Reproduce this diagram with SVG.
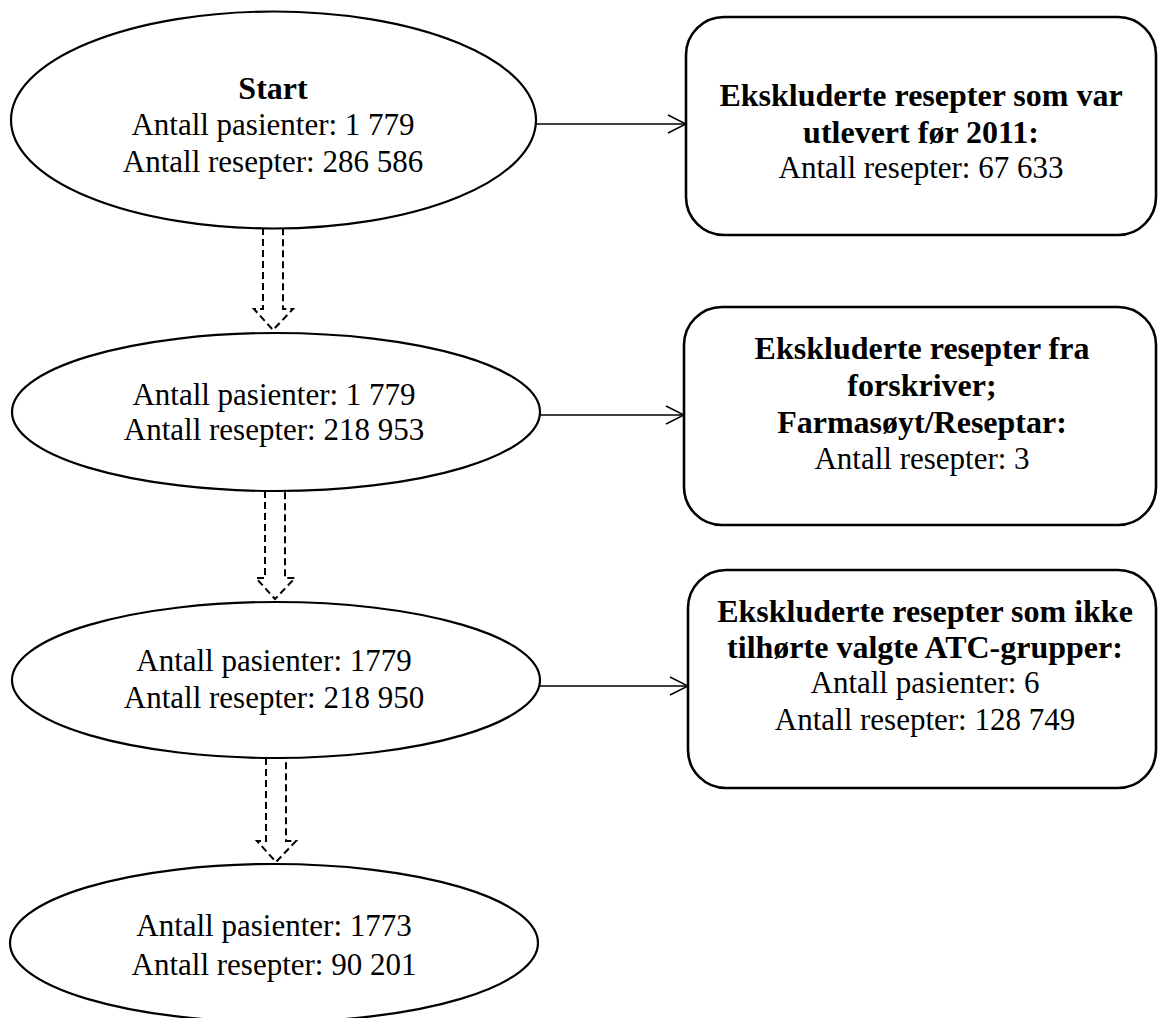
<svg xmlns="http://www.w3.org/2000/svg" width="1158" height="1018" viewBox="0 0 1158 1018">
<style>
.shape{fill:#fff;stroke:#000;stroke-width:2.2}
.box{fill:#fff;stroke:#000;stroke-width:2.6}
.t{font-family:"Liberation Serif","Times New Roman",serif;font-size:31px;fill:#000;text-anchor:middle}
.b{font-weight:bold;font-size:32px}
.conn{stroke:#000;stroke-width:1.4;fill:none}
.dash{fill:none;stroke:#000;stroke-width:2;stroke-dasharray:7,4}
</style>
<defs>
<marker id="arr" viewBox="0 0 20 20" refX="19" refY="10" markerWidth="20" markerHeight="20" markerUnits="userSpaceOnUse" orient="auto">
<path d="M1,1 L19,10 L1,19" fill="none" stroke="#000" stroke-width="1.5"/>
</marker>
</defs>
<g id="connectors">
<line class="conn" x1="536" y1="124" x2="686" y2="124" marker-end="url(#arr)"/>
<line class="conn" x1="540" y1="415" x2="684" y2="415" marker-end="url(#arr)"/>
<line class="conn" x1="540" y1="686" x2="688" y2="686" marker-end="url(#arr)"/>
<polygon class="dash" points="263,228 263,309 254,309 273,330 293,309 283,309 283,228"/>
<polygon class="dash" points="265,491 265,578 256,578 275,599 295,578 285,578 285,491"/>
<polygon class="dash" points="266,758 266,841 257,841 276,862 296,841 286,841 286,758"/>
</g>
<g id="n1">
<ellipse class="shape" cx="273.5" cy="120" rx="262.5" ry="108.5"/>
<text class="t b" x="273" y="99">Start</text>
<text class="t" x="273" y="135">Antall pasienter: 1 779</text>
<text class="t" x="273" y="172">Antall resepter: 286 586</text>
</g>
<g id="n2">
<ellipse class="shape" cx="276" cy="412" rx="264" ry="79"/>
<text class="t" x="274" y="405">Antall pasienter: 1 779</text>
<text class="t" x="274" y="440">Antall resepter: 218 953</text>
</g>
<g id="n3">
<ellipse class="shape" cx="276" cy="680" rx="264" ry="78"/>
<text class="t" x="274" y="671">Antall pasienter: 1779</text>
<text class="t" x="274" y="708">Antall resepter: 218 950</text>
</g>
<g id="n4">
<ellipse class="shape" cx="274" cy="943" rx="264" ry="79"/>
<text class="t" x="274" y="936">Antall pasienter: 1773</text>
<text class="t" x="274" y="975">Antall resepter: 90 201</text>
</g>
<g id="b1">
<rect class="box" x="686" y="17" width="470" height="218" rx="38" ry="38"/>
<text class="t b" x="921" y="106">Ekskluderte resepter som var</text>
<text class="t b" x="921" y="143">utlevert før 2011:</text>
<text class="t" x="921" y="178">Antall resepter: 67 633</text>
</g>
<g id="b2">
<rect class="box" x="684" y="307" width="472" height="218" rx="38" ry="38"/>
<text class="t b" x="922" y="359">Ekskluderte resepter fra</text>
<text class="t b" x="922" y="396">forskriver;</text>
<text class="t b" x="922" y="433">Farmasøyt/Reseptar:</text>
<text class="t" x="922" y="469">Antall resepter: 3</text>
</g>
<g id="b3">
<rect class="box" x="688" y="570" width="468" height="218" rx="38" ry="38"/>
<text class="t b" x="925" y="622">Ekskluderte resepter som ikke</text>
<text class="t b" x="925" y="658">tilhørte valgte ATC-grupper:</text>
<text class="t" x="925" y="693">Antall pasienter: 6</text>
<text class="t" x="925" y="730">Antall resepter: 128 749</text>
</g>
</svg>
